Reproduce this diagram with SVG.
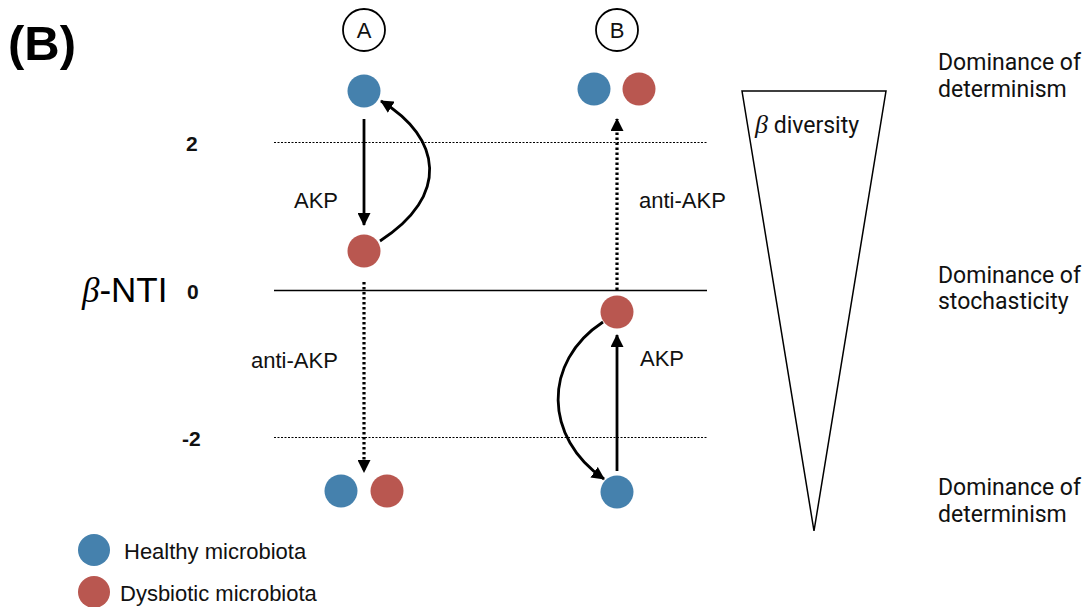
<svg xmlns="http://www.w3.org/2000/svg" width="1088" height="607" viewBox="0 0 1088 607">
<style>
.h{fill:#4581ad}
.d{fill:#b95750}
.lbl{font-family:"Liberation Sans",Arial,sans-serif;font-size:22px;fill:#111}
.rt{font-family:Roboto,"Liberation Sans",sans-serif;font-size:23px;fill:#111}
.num{font-family:"Liberation Sans",Arial,sans-serif;font-size:21px;font-weight:bold;fill:#111}
.ar{fill:none;stroke:#000;stroke-width:2.8}
.dot{fill:none;stroke:#000;stroke-width:3.2;stroke-dasharray:2.5 2.5}
</style>
<defs>
<marker id="mb" markerWidth="13" markerHeight="13" refX="12" refY="6.5" orient="auto" markerUnits="userSpaceOnUse" viewBox="0 0 13 13">
<path d="M0,0 L13,6.5 L0,13 Z" fill="#000"/>
</marker>
</defs>
<rect width="1088" height="607" fill="#fff"/>
<text x="8" y="60" font-family="Liberation Sans,Arial,sans-serif" font-size="49" font-weight="bold">(B)</text>

<g id="axes">
<line x1="274" y1="142.5" x2="707" y2="142.5" stroke="#000" stroke-width="1" stroke-dasharray="2 1.5"/>
<line x1="274" y1="290.5" x2="707" y2="290.5" stroke="#000" stroke-width="1.5"/>
<line x1="274" y1="437.5" x2="707" y2="437.5" stroke="#000" stroke-width="1" stroke-dasharray="2 1.5"/>
<text class="num" x="186" y="151">2</text>
<text class="num" x="187" y="299">0</text>
<text class="num" x="182" y="446">-2</text>
<text x="82" y="302" font-family="Liberation Sans,Arial,sans-serif" font-size="35" fill="#000"><tspan font-style="italic" font-family="Liberation Serif,serif">β</tspan>-NTI</text>
</g>

<g id="labelA">
<circle cx="364" cy="30" r="21" fill="none" stroke="#000" stroke-width="1.8"/>
<text x="364" y="38" text-anchor="middle" class="lbl" font-size="22">A</text>
</g>
<g id="labelB">
<circle cx="617" cy="30" r="21" fill="none" stroke="#000" stroke-width="1.8"/>
<text x="617" y="38" text-anchor="middle" class="lbl" font-size="22">B</text>
</g>

<g id="connectors">
<line class="ar" x1="364" y1="119" x2="364" y2="225" marker-end="url(#mb)"/>
<path class="ar" d="M380,241 C450,196 442,138 381,101" marker-end="url(#mb)"/>
<line class="dot" x1="364" y1="282" x2="364" y2="472" marker-end="url(#mb)"/>
<line class="dot" x1="617" y1="290" x2="617" y2="119" marker-end="url(#mb)"/>
<line class="ar" x1="617" y1="471" x2="617" y2="335" marker-end="url(#mb)"/>
<path class="ar" d="M603,322 C542,362 544,438 604,479" marker-end="url(#mb)"/>
</g>

<g id="nodeA1"><circle class="h" cx="364" cy="91" r="16.5"/></g>
<g id="nodeA2"><circle class="d" cx="364" cy="251" r="16.5"/></g>
<g id="nodeA3"><circle class="h" cx="341" cy="491" r="16.5"/><circle class="d" cx="387" cy="491" r="16.5"/></g>
<g id="nodeB1"><circle class="h" cx="594" cy="89" r="16.5"/><circle class="d" cx="639" cy="89" r="16.5"/></g>
<g id="nodeB2"><circle class="d" cx="617" cy="312" r="16.5"/></g>
<g id="nodeB3"><circle class="h" cx="617" cy="492" r="16.5"/></g>

<g id="edgeLabels">
<text class="lbl" x="294" y="208">AKP</text>
<text class="lbl" x="639" y="208">anti-AKP</text>
<text class="lbl" x="251" y="368">anti-AKP</text>
<text class="lbl" x="640" y="366">AKP</text>
</g>

<g id="triangle">
<polygon points="742,91 886,91 814,531" fill="none" stroke="#000" stroke-width="1.5"/>
<text x="755" y="133" class="rt" font-size="29"><tspan font-style="italic" font-family="Liberation Serif,serif" font-size="26">β</tspan> diversity</text>
</g>

<g id="rightLabels">
<text class="rt" x="938" y="70">Dominance of</text>
<text class="rt" x="938" y="97">determinism</text>
<text class="rt" x="938" y="283">Dominance of</text>
<text class="rt" x="938" y="309">stochasticity</text>
<text class="rt" x="938" y="495">Dominance of</text>
<text class="rt" x="938" y="522">determinism</text>
</g>

<g id="legend">
<circle class="h" cx="94" cy="550" r="16"/>
<text class="lbl" x="124" y="559" font-size="23">Healthy microbiota</text>
<circle class="d" cx="94" cy="592" r="16"/>
<text class="lbl" x="120" y="601" font-size="23">Dysbiotic microbiota</text>
</g>
</svg>
